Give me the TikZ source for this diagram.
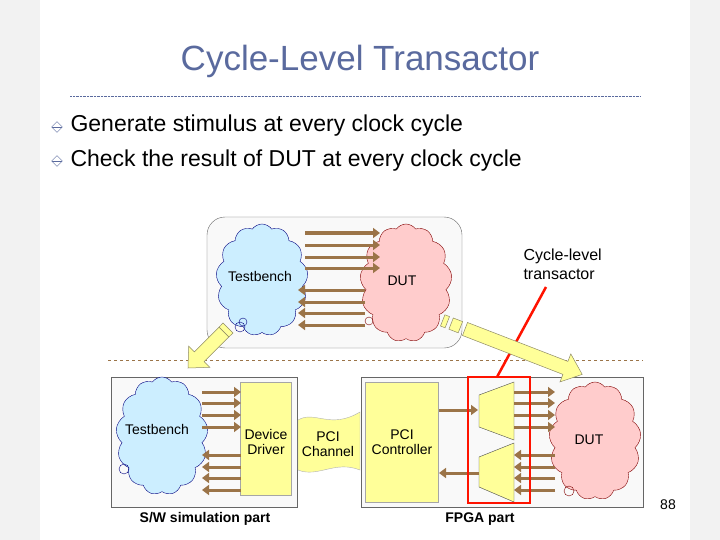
\documentclass[tikz,border=0pt]{standalone}
\usepackage{fontspec}
\setmainfont{Liberation Sans}
\usetikzlibrary{shapes.symbols,shapes.geometric,arrows.meta}
\definecolor{titlec}{HTML}{5A6A9E}
\definecolor{brn}{HTML}{9B7448}
\definecolor{yel}{HTML}{FFFF99}
\definecolor{cblue}{HTML}{CCEEFF}
\definecolor{cpink}{HTML}{FFCCCC}
\tikzset{
  ar/.style={draw=brn,line width=3pt,-{Triangle[length=7pt,width=10pt]}},
  bcloud/.style={cloud,cloud puffs=13,cloud puff arc=110,aspect=0.8,fill=cblue,draw=blue!50!black,inner sep=0pt},
  pcloud/.style={cloud,cloud puffs=13,cloud puff arc=110,aspect=0.8,fill=cpink,draw=red!50!black,inner sep=0pt},
  ybox/.style={draw=gray!70,fill=yel},
  grp/.style={draw=gray!80!black,fill=gray!5},
  lbl/.style={font=\fontsize{14}{15}\selectfont,align=center},
  yarrow/.style={draw=gray!60!yellow!70!black,fill=yel,line width=0.5pt},
  bul/.style={diamond,draw=titlec,minimum width=11pt,minimum height=11pt,inner sep=0pt,path picture={\draw[titlec] (path picture bounding box.west) -- (path picture bounding box.east);}}
}
\begin{document}
\begin{tikzpicture}[x=1pt,y=-1pt]
\useasboundingbox (0,0) rectangle (720,540);
\fill[gray!10] (0,0) rectangle (720,540);
\fill[white] (40,0) rectangle (690,540);
\node[text=titlec,font=\fontsize{35}{37}\selectfont] (title) at (360,61) {Cycle-Level Transactor};
\draw[titlec,densely dotted] (70,96) -- (640,96);
\node[bul] (b1) at (57,127) {};
\node[bul] (b2) at (57,161) {};
\node[anchor=west,font=\fontsize{23}{24}\selectfont] (t1) at (67,126) {Generate stimulus at every clock cycle};
\node[anchor=west,font=\fontsize{23}{24}\selectfont] (t2) at (67,161) {Check the result of DUT at every clock cycle};
% top group
\draw[grp,rounded corners=18pt] (207,217) rectangle (462,348);
\node[bcloud,minimum width=92pt,minimum height=112pt] (tb1) at (262,280) {};
\node[pcloud,minimum width=92pt,minimum height=118pt] (dut1) at (406,283) {};
\node[lbl] (tb1l) at (260,276) {Testbench};
\node[lbl] (dut1l) at (402,281) {DUT};
\foreach \y in {233,245,257,268}{\draw[ar] (305,\y) -- (380,\y);}
\foreach \y in {290,302,313,325}{\draw[ar] (365,\y) -- (298,\y);}
\draw[blue!50!black] (240,327) circle (5); \draw[blue!50!black] (243,322) circle (4);
\draw[red!50!black] (369,321) circle (4);
\node[lbl,anchor=west,font=\fontsize{16}{19}\selectfont,align=left] (ctl) at (520,264) {Cycle-level\\transactor};
% dashed separator
\draw[brn,dashed] (108,360) -- (643,360);
% bottom left
\draw[grp] (111,377) rectangle (297,507);
\node[bcloud,minimum width=92pt,minimum height=118pt] (tb2) at (162,436) {};
\node[lbl] (tb2l) at (157,429) {Testbench};
\draw[blue!50!black] (124,469) circle (5);
\node[ybox,minimum width=51pt,minimum height=113pt] (dd) at (266,439) {};
\node[lbl] (ddl) at (266,442) {Device\\Driver};
\foreach \y in {392,403,415,427}{\draw[ar] (202,\y) -- (241,\y);}
\foreach \y in {455,467,478,490}{\draw[ar] (241,\y) -- (202,\y);}
% PCI channel
\draw[ybox,draw=gray!60] (298,420) .. controls (315,410) and (330,430) .. (360,412) -- (360,470) .. controls (335,460) and (318,478) .. (298,470) -- cycle;
\node[lbl] (pcil) at (328,444) {PCI\\Channel};
% bottom right
\draw[grp] (361,377) rectangle (643,507);
\node[ybox,minimum width=73pt,minimum height=120pt] (pc) at (402,442) {};
\node[lbl] (pcl) at (402,442) {PCI\\Controller};
\node[pcloud,minimum width=92pt,minimum height=118pt] (dut2) at (595,441) {};
\node[lbl] (dut2l) at (589,440) {DUT};
\draw[red!50!black] (569,491) circle (5);
\draw[ybox,draw=gray!60!black] (479,395) coordinate (ta) -- (514,382) -- (514,440) -- (479,427) -- cycle;
\draw[ybox,draw=gray!60!black] (479,457) coordinate (tb) -- (514,443) -- (514,502) -- (479,487) -- cycle;
\coordinate (pcr1) at (439,410); \coordinate (tr1) at (478,410);
\coordinate (pcr2) at (439,473); \coordinate (tr2) at (479,473);
\draw[ar] (pcr1) -- (tr1);
\draw[ar] (tr2) -- (pcr2);
\foreach \y in {392,403,415,427}{\draw[ar] (514,\y) -- (555,\y);}
\foreach \y in {455,467,478,490}{\draw[ar] (555,\y) -- (514,\y);}
\draw[red!85!orange,line width=2.5pt] (468,377) rectangle (530,503);
\coordinate (rl) at (546,287);
\draw[red!85!orange,line width=2.5pt] (rl) -- (497,377);
% yellow arrows
\draw[yarrow] (228.9,336.9) -- (204.2,361.6) -- (209.9,367.3) -- (188,368) -- (188.7,346.1) -- (194.4,351.8) -- (219.1,327.1) -- cycle;
\draw[yarrow] (219.1,327.1) -- (228.9,336.9) -- (233,333) -- (223,323) -- cycle;
\draw[yarrow] (440.5,326.0) -- (444.9,314.8) -- (449.5,316.6) -- (445.1,327.8) -- cycle;
\draw[yarrow] (448.9,329.2) -- (453.3,318.0) -- (462.6,321.6) -- (458.2,332.8) -- cycle;
\draw[yarrow] (462.5,335.5) -- (562.9,374.4) -- (560,381.9) -- (582.2,374.4) -- (570.8,353.9) -- (567.9,361.4) -- (467.5,322.5) -- cycle;
\node[font=\fontsize{14}{15}\selectfont\bfseries] (swl) at (205,519) {S/W simulation part};
\node[font=\fontsize{14}{15}\selectfont\bfseries] (fpl) at (480,519) {FPGA part};
\node[font=\fontsize{14}{15}\selectfont] (pg) at (668,505) {88};
\end{tikzpicture}
\end{document}
